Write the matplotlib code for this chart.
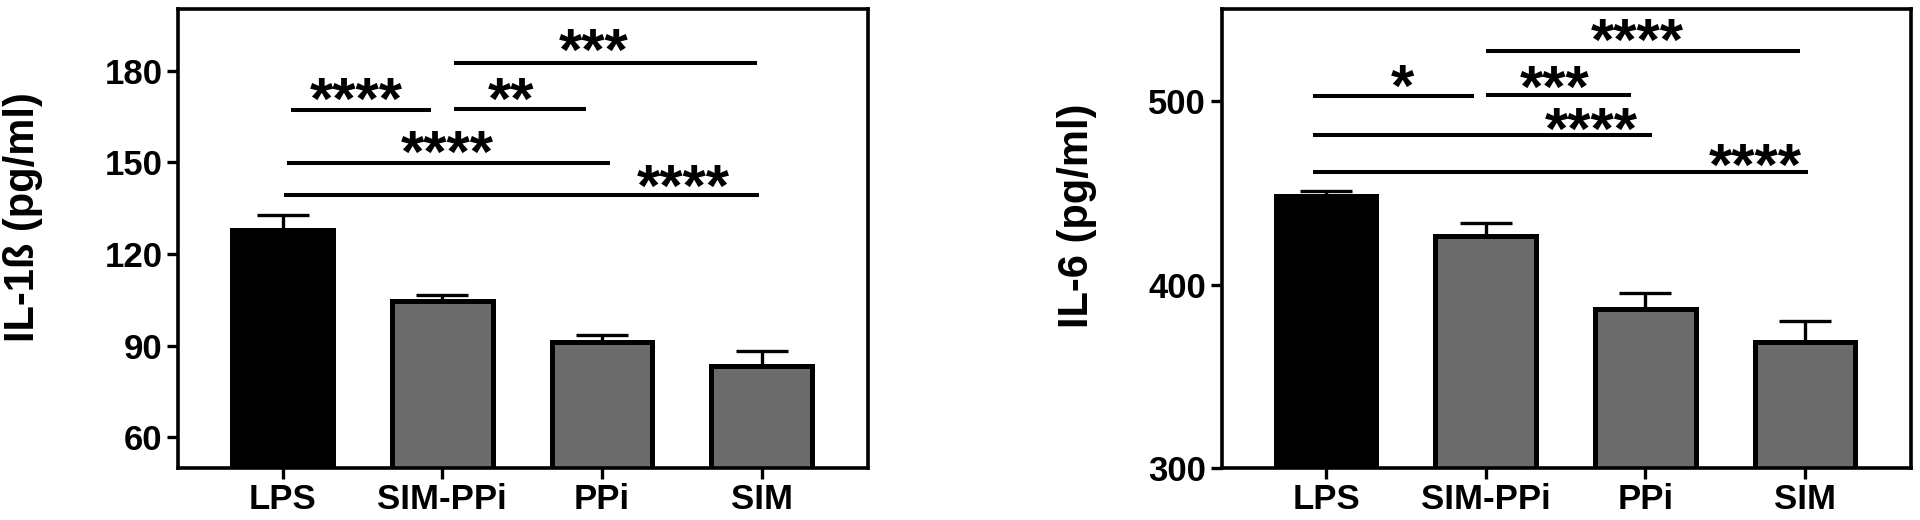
import matplotlib
matplotlib.use("Agg")
import matplotlib.pyplot as plt

plt.rcParams['font.family'] = ['Liberation Sans', 'DejaVu Sans']
plt.rcParams['font.weight'] = 'bold'

categories = ["LPS", "SIM-PPi", "PPi", "SIM"]

il1b_means = [127.9, 104.6, 91.2, 83.3]
il1b_errs = [5.0, 2.1, 2.2, 4.9]
il1b_ticks = [60, 90, 120, 150, 180]

il6_means = [448.2, 426.2, 386.4, 368.8]
il6_errs = [3.0, 7.2, 8.8, 11.5]
il6_ticks = [300, 400, 500]

# significance comparisons: (group a, group b, label)
il1b_pairs = [(0, 1, "****"), (1, 2, "**"), (1, 3, "***"), (0, 2, "****"), (0, 3, "****")]
il6_pairs = [(0, 1, "*"), (1, 2, "***"), (1, 3, "****"), (0, 2, "****"), (0, 3, "****")]

# layout of the brackets (x start, x end, line y, label x, label center y)
il1b_layout = [(0.05, 0.93, 167.0, 0.46, 173.3),
               (1.07, 1.90, 167.3, 1.43, 173.3),
               (1.07, 2.97, 182.4, 1.95, 189.3),
               (0.03, 2.05, 149.7, 1.03, 155.9),
               (0.01, 2.98, 139.2, 2.51, 144.6)]
il6_layout = [(-0.08, 0.93, 502.7, 0.48, 512.2),
              (1.00, 1.91, 503.1, 1.43, 511.9),
              (1.00, 2.97, 527.3, 1.95, 537.4),
              (-0.08, 2.04, 481.3, 1.66, 489.1),
              (-0.08, 3.02, 461.2, 2.69, 469.4)]

bar_colors = ["#000000", "#6b6b6b", "#6b6b6b", "#6b6b6b"]

fig = plt.figure(figsize=(19.2, 5.2), dpi=100)
ax1 = fig.add_axes([0.0927, 0.1, 0.3594, 0.882])
ax2 = fig.add_axes([0.6362, 0.1, 0.3591, 0.882])

STAR_FS = 43


def draw(ax, means, errs, ticks, ylim, ylabel, pairs, layout, label_y):
    x = list(range(len(categories)))
    ax.bar(x, means, width=0.63, color=bar_colors, edgecolor="black",
           linewidth=3.6, zorder=2)
    ax.errorbar(x, means, yerr=[[0] * len(errs), errs], fmt="none",
                ecolor="black", elinewidth=2.4, capsize=19, capthick=2.4,
                zorder=1)
    ax.set_xlim(-0.655, 3.665)
    ax.set_ylim(*ylim)
    ax.set_yticks(ticks)
    ax.set_xticks(x)
    ax.set_xticklabels(categories)
    for s in ax.spines.values():
        s.set_linewidth(2.6)
    ax.tick_params(axis="both", length=8, width=2.4, labelsize=25, direction="out")
    ax.tick_params(axis="y", pad=3)
    ax.tick_params(axis="x", pad=3)
    for lab in ax.get_xticklabels() + ax.get_yticklabels():
        lab.set_fontweight("bold")
    ax.set_ylabel(ylabel, fontsize=30, fontweight="bold")
    ax.yaxis.set_label_coords(label_y[0], label_y[1])
    for (a, b, txt), (x1, x2, ly, tx, ty) in zip(pairs, layout):
        ax.plot([x1, x2], [ly, ly], color="black", lw=2.9,
                solid_capstyle="butt", clip_on=False, zorder=3)
        ax.annotate(txt, xy=(tx, ty), xytext=(0, -0.46 * STAR_FS),
                    textcoords="offset points", ha="center", va="baseline",
                    fontsize=STAR_FS, fontweight="bold", annotation_clip=False)


draw(ax1, il1b_means, il1b_errs, il1b_ticks, (50, 200), "IL-1ß (pg/ml)",
     il1b_pairs, il1b_layout, (-0.195, 0.548))
draw(ax2, il6_means, il6_errs, il6_ticks, (300, 550), "IL-6 (pg/ml)",
     il6_pairs, il6_layout, (-0.18, 0.55))

fig.savefig("out.png", dpi=100)
